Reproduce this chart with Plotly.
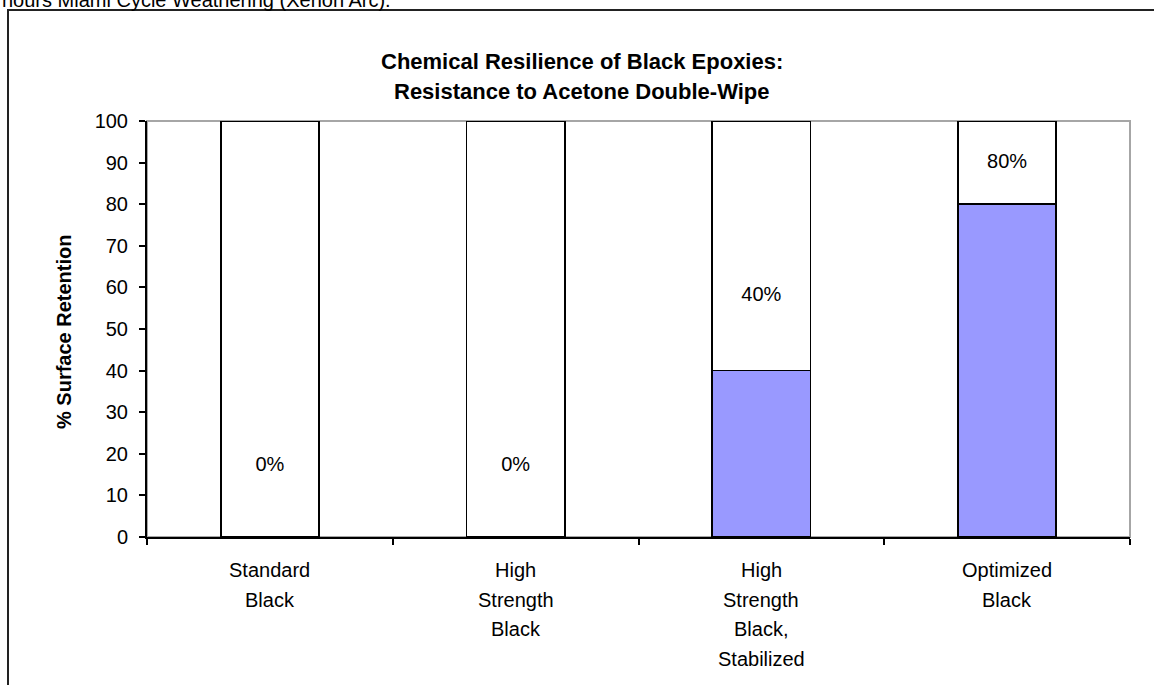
import plotly.graph_objects as go

# ---- data ----
categories = ["Standard Black", "High Strength Black", "High Strength Black, Stabilized", "Optimized Black"]
tick_lines = [["Standard", "Black"], ["High", "Strength", "Black"], ["High", "Strength", "Black,", "Stabilized"], ["Optimized", "Black"]]
retention = [0, 0, 40, 80]
remainder = [100 - v for v in retention]
label_text = ["0%", "0%", "40%", "80%"]
label_y = [17, 17, 58, 90]
y_ticks = list(range(0, 101, 10))

title_lines = ["Chemical Resilience of Black Epoxies:", "Resistance to Acetone Double-Wipe"]
y_title = "% Surface Retention"
top_text = "hours Miami Cycle Weathering (Xenon Arc)."

# ---- geometry (pixels) ----
W, H = 1154, 685
L, R, T, B = 147, 1130, 121, 537


def px_x(p):
    return (p - L) / (R - L)


def px_y(p):
    return (B - p) / (B - T)


FONT = "Arial, Liberation Sans, sans-serif"

fig = go.Figure()
fig.add_trace(go.Bar(x=categories, y=retention, marker=dict(color="#9999FF", line=dict(color="black", width=1.6)),
                     hoverinfo="skip", showlegend=False))
fig.add_trace(go.Bar(x=categories, y=remainder, marker=dict(color="white", line=dict(color="black", width=1.6)),
                     hoverinfo="skip", showlegend=False))
fig.add_trace(go.Scatter(x=categories, y=label_y, mode="text", text=label_text,
                         textfont=dict(family=FONT, size=20, color="black"), showlegend=False, hoverinfo="skip"))

annotations = []
# category labels, one line each
for cat, lines in zip(categories, tick_lines):
    for i, line in enumerate(lines):
        annotations.append(dict(x=cat, y=0, xref="x", yref="y", text=line, showarrow=False,
                                yanchor="middle", xanchor="center", yshift=-(33 + 29.5 * i),
                                font=dict(family=FONT, size=20, color="black")))
# title, one annotation per line
for i, line in enumerate(title_lines):
    annotations.append(dict(x=px_x(582), y=px_y(62 + 29 * i), xref="paper", yref="paper", showarrow=False,
                            text="<b>" + line + "</b>", xanchor="center", yanchor="middle",
                            font=dict(family=FONT, size=22, color="black")))
# y axis title
annotations.append(dict(x=px_x(64), y=px_y(332), xref="paper", yref="paper", showarrow=False,
                        text="<b>" + y_title + "</b>", textangle=-90, xanchor="center", yanchor="middle",
                        font=dict(family=FONT, size=20, color="black")))
# clipped text from the page above
annotations.append(dict(x=px_x(0), y=px_y(13), xref="paper", yref="paper", showarrow=False,
                        text=top_text, xanchor="left", yanchor="bottom",
                        font=dict(family=FONT, size=20, color="black")))

shapes = [
    # plot area border (gray)
    dict(type="rect", xref="paper", yref="paper", x0=0, x1=1, y0=0, y1=1,
         line=dict(color="#A6A6A6", width=2), layer="below"),
    # chart area border
    dict(type="rect", xref="paper", yref="paper", x0=px_x(8), x1=px_x(1170), y0=px_y(700), y1=px_y(10),
         line=dict(color="#222222", width=2), layer="below"),
]

fig.update_layout(
    width=W, height=H,
    margin=dict(l=L, r=W - R, t=T, b=H - B),
    paper_bgcolor="white", plot_bgcolor="white",
    barmode="stack", bargap=0.6,
    font=dict(family=FONT, size=20, color="black"),
    annotations=annotations, shapes=shapes,
    xaxis=dict(showgrid=False, showline=True, linecolor="black", linewidth=2,
               ticks="outside", ticklen=6, tickwidth=2, tickcolor="black",
               tickson="boundaries", showticklabels=False, zeroline=False, fixedrange=True),
    yaxis=dict(range=[0, 100], tickvals=y_ticks, showgrid=False, showline=True, linecolor="black", linewidth=2,
               ticks="outside", ticklen=6, tickwidth=2, tickcolor="black", zeroline=False,
               tickfont=dict(family=FONT, size=20, color="black"), ticklabelstandoff=7, fixedrange=True),
)

fig.write_html("out.html")
